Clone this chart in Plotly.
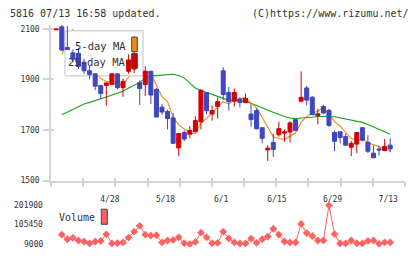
import numpy as np
import plotly.graph_objects as go

# ---------------- data ----------------
dates = ["4/14", "4/15", "4/16", "4/17", "4/20", "4/21", "4/22", "4/23", "4/24", "4/27",
         "4/28", "4/30", "5/1", "5/7", "5/8", "5/11", "5/12", "5/13", "5/14", "5/15",
         "5/18", "5/19", "5/20", "5/21", "5/22", "5/25", "5/26", "5/27", "5/28", "5/29",
         "6/1", "6/2", "6/3", "6/4", "6/5", "6/8", "6/9", "6/10", "6/11", "6/12",
         "6/15", "6/16", "6/17", "6/18", "6/19", "6/22", "6/23", "6/24", "6/25", "6/26",
         "6/29", "6/30", "7/1", "7/2", "7/3", "7/6", "7/7", "7/8", "7/9", "7/10", "7/13"]

opens = [2096, 2108, 2026, 2005, 2003, 1968, 1934, 1922, 1876, 1876, 1880,
         1922, 1867, 1932, 1941, 1887, 1880, 1932, 1860, 1790, 1773,
         1748, 1629, 1690, 1683, 1693, 1732, 1848, 1763, 1793, 1934,
         1848, 1814, 1822, 1808, 1763, 1777, 1709, 1621, 1651, 1681,
         1687, 1692, 1741, 1814, 1866, 1829, 1756, 1793, 1777, 1690,
         1693, 1674, 1632, 1644, 1709, 1651, 1608, 1625, 1619, 1640]
highs = [2099, 2115, 2111, 2018, 2024, 1982, 1954, 1924, 1877, 1887, 1923,
         1924, 1902, 1999, 2012, 1896, 1951, 1934, 1867, 1802, 1780,
         1767, 1686, 1698, 1715, 1754, 1861, 1848, 1797, 1828, 1948,
         1870, 1864, 1829, 1844, 1802, 1786, 1709, 1640, 1686, 1732,
         1702, 1735, 1743, 1931, 1874, 1835, 1784, 1799, 1784, 1698,
         1693, 1686, 1657, 1690, 1709, 1679, 1638, 1638, 1664, 1667]
lows = [2096, 2011, 2016, 1969, 1941, 1922, 1900, 1858, 1822, 1797, 1878,
        1861, 1831, 1922, 1925, 1799, 1835, 1803, 1751, 1760, 1702,
        1647, 1597, 1655, 1667, 1693, 1702, 1763, 1737, 1745, 1818,
        1776, 1793, 1789, 1806, 1713, 1702, 1647, 1577, 1593, 1673,
        1654, 1651, 1698, 1809, 1797, 1760, 1722, 1763, 1712, 1616,
        1647, 1638, 1596, 1609, 1655, 1609, 1590, 1599, 1616, 1612]
closes = [2099, 2016, 2018, 1980, 1951, 1934, 1919, 1873, 1844, 1886, 1922,
          1867, 1892, 1977, 2002, 1864, 1932, 1838, 1751, 1771, 1745,
          1647, 1686, 1664, 1698, 1737, 1857, 1776, 1777, 1812, 1840,
          1812, 1848, 1809, 1825, 1741, 1705, 1667, 1628, 1623, 1705,
          1693, 1728, 1698, 1829, 1818, 1760, 1764, 1767, 1718, 1655,
          1670, 1640, 1647, 1690, 1660, 1616, 1590, 1621, 1635, 1625]

# values from 4/15 onward
volume = [56100, 33300, 39600, 27000, 22100, 12400, 22100, 25000, 57600, 12400,
          13900, 17300, 41600, 70700, 99900, 56100, 51300, 53700, 17300, 27000,
          29900, 43000, 13900, 9200, 20200, 65900, 43000, 13900, 15600, 70700,
          36700, 17300, 12400, 12400, 36700, 15600, 33300, 46400, 85300, 56100,
          22100, 17300, 17300, 109600, 64000, 49300, 27000, 27000, 201900, 59000,
          12400, 12400, 27000, 13900, 12400, 25000, 27000, 10500, 17300, 17300]
ma5 = [1999, 2050, 2098, 2013, 1980, 1960, 1931, 1904, 1891, 1889,
       1878, 1882, 1909, 1932, 1920, 1933, 1923, 1877, 1831, 1812,
       1750, 1720, 1703, 1688, 1686, 1728, 1746, 1769, 1792, 1812,
       1803, 1818, 1824, 1827, 1807, 1786, 1749, 1713, 1673, 1666,
       1663, 1675, 1689, 1731, 1753, 1767, 1774, 1788, 1765, 1733,
       1715, 1690, 1666, 1660, 1661, 1651, 1641, 1635, 1624, 1617]
ma25 = [1760, 1771, 1782, 1795, 1803, 1809, 1815, 1822, 1830, 1838,
        1845, 1853, 1866, 1877, 1888, 1905, 1915, 1915, 1916, 1919,
        1920, 1915, 1905, 1885, 1866, 1856, 1848, 1840, 1831, 1825,
        1819, 1817, 1816, 1813, 1806, 1798, 1788, 1778, 1769, 1760,
        1753, 1747, 1745, 1747, 1748, 1750, 1753, 1754, 1754, 1752,
        1748, 1742, 1740, 1736, 1730, 1722, 1713, 1703, 1694, 1683]

label_dates = ["4/28", "5/18", "6/1", "6/15", "6/29", "7/13"]
price_ticks = [1500, 1700, 1900, 2100]
vol_ticks = [9000, 105450, 201900]

# ---------------- geometry / style ----------------
W, H = 420, 259
ML, MR, MT, MB = 51, 15, 25, 4
PW, PH = W - ML - MR, H - MT - MB
FONT = "DejaVu Sans Mono"
TXT = "#333333"
AXC = "#d4d4d4"
RED = "#d40000"
BLUE = "#3f47bf"
ORANGE = "#f08a10"
GREEN = "#17a317"
VOLC = "#ff6262"


def px_x(px):
    return (px - ML) / PW


def px_y(py):
    return (H - MB - py) / PH


pos = list(range(-1, len(dates) - 1))
vol_pos = pos[1:]
x_range = [-1.94, 61.66]
y_range = [1500, 2115]
v_range = [-5577, 222800]
price_dom = [px_y(184), px_y(25)]
vol_dom = [px_y(252), px_y(205)]
marks = list(np.linspace(x_range[0], x_range[1], 12))
label_pos = [p for p, d in zip(pos, dates) if d in label_dates]


def idx_at(px):
    return x_range[0] + (px - ML) / PW * (x_range[1] - x_range[0])


def price_at(py):
    return y_range[0] + (184 - py) / (184 - 25) * (y_range[1] - y_range[0])


fig = go.Figure()
fig.add_trace(go.Scatter(x=vol_pos, y=ma25, mode="lines", line=dict(color=GREEN, width=1.1),
                         xaxis="x", yaxis="y", hoverinfo="skip"))
fig.add_trace(go.Scatter(x=vol_pos, y=ma5, mode="lines", line=dict(color=ORANGE, width=1.1),
                         xaxis="x", yaxis="y", hoverinfo="skip"))
# legend box (covers the MA lines, sits below the candles)
bx0, bx1, by0, by1 = idx_at(65), idx_at(143), price_at(77), price_at(31)
fig.add_trace(go.Scatter(x=[bx0, bx1, bx1, bx0, bx0], y=[by0, by0, by1, by1, by0],
                         mode="lines", fill="toself", fillcolor="white",
                         line=dict(color="#d6d6d6", width=1.5), xaxis="x", yaxis="y",
                         hoverinfo="skip"))
fig.add_trace(go.Candlestick(x=pos, open=opens, high=highs, low=lows, close=closes,
                             xaxis="x3", yaxis="y3", whiskerwidth=0,
                             increasing=dict(line=dict(color=RED, width=1), fillcolor=RED),
                             decreasing=dict(line=dict(color=BLUE, width=1), fillcolor=BLUE)))
fig.add_trace(go.Scatter(x=vol_pos, y=volume, mode="lines+markers",
                         line=dict(color=VOLC, width=1),
                         marker=dict(symbol="diamond", size=6, color=VOLC),
                         xaxis="x2", yaxis="y2"))

tickfont = dict(family=FONT, size=8, color=TXT)
fig.update_layout(
    width=W, height=H, margin=dict(l=ML, r=MR, t=MT, b=MB),
    paper_bgcolor="white", plot_bgcolor="white", showlegend=False,
    boxgap=0.1, boxgroupgap=0.2,
    xaxis=dict(domain=[0, 1], anchor="y", range=x_range, showline=True, linecolor=AXC,
               linewidth=1.5, showgrid=False, zeroline=False,
               tickmode="array", tickvals=label_pos, ticktext=label_dates, ticks="",
               tickfont=tickfont, ticklabelstandoff=10, ticklabelshift=-2,
               minor=dict(tickmode="array", tickvals=marks, ticks="outside", ticklen=5,
                          tickcolor=AXC, tickwidth=1.5, showgrid=False)),
    yaxis=dict(domain=price_dom, anchor="x", range=y_range, showline=True, linecolor=AXC,
               linewidth=1.5, showgrid=False, zeroline=False, tickmode="array",
               tickvals=price_ticks, ticks="outside", ticklen=6, tickcolor=AXC, tickwidth=1.5,
               tickfont=tickfont, ticklabelstandoff=2),
    xaxis3=dict(overlaying="x", anchor="y3", range=x_range, showline=False, showgrid=False,
                zeroline=False, tickmode="array", tickvals=marks, ticks="inside", ticklen=3,
                tickcolor=AXC, tickwidth=1.5, showticklabels=False,
                rangeslider=dict(visible=False), side="bottom"),
    yaxis3=dict(overlaying="y", anchor="x3", range=y_range, showline=False, showgrid=False,
                zeroline=False, tickmode="array", tickvals=price_ticks, ticks="inside",
                ticklen=3, tickcolor=AXC, tickwidth=1.5, showticklabels=False, side="left"),
    xaxis2=dict(domain=[0, 1], anchor="y2", range=x_range, visible=False),
    yaxis2=dict(domain=vol_dom, anchor="x2", range=v_range, visible=False),
)

ann = [
    dict(text="5816 07/13 16:58 updated.", x=px_x(8), y=px_y(13.5), xanchor="left",
         font=dict(family=FONT, size=10, color=TXT)),
    dict(text="(C)https://www.rizumu.net/", x=px_x(411), y=px_y(13.5), xanchor="right",
         font=dict(family=FONT, size=10, color=TXT)),
    dict(text="5-day MA", x=px_x(128), y=px_y(46), xanchor="right",
         font=dict(family=FONT, size=10.5, color=TXT)),
    dict(text="25-day MA", x=px_x(128), y=px_y(63), xanchor="right",
         font=dict(family=FONT, size=10.5, color=TXT)),
    dict(text="Volume", x=px_x(57), y=px_y(222), xanchor="left",
         font=dict(family=FONT, size=10, color=TXT)),
]
for a in ann:
    a.update(xref="paper", yref="paper", yanchor="middle", showarrow=False)
for v in vol_ticks:
    ann.append(dict(text=str(v), x=px_x(44.5), xref="paper", y=v, yref="y2",
                    xanchor="right", yanchor="middle", showarrow=False,
                    font=dict(family=FONT, size=8, color=TXT)))
fig.update_layout(annotations=ann)

shapes = [
    dict(x0=px_x(131.7), x1=px_x(137.3), y0=px_y(52.3), y1=px_y(37.3), fillcolor=ORANGE),
    dict(x0=px_x(131.7), x1=px_x(137.3), y0=px_y(69.3), y1=px_y(54.3), fillcolor=RED),
    dict(x0=px_x(101.3), x1=px_x(107.3), y0=px_y(228.7), y1=px_y(213.3), fillcolor=VOLC),
]
for s in shapes:
    s.update(type="rect", xref="paper", yref="paper", layer="above",
             line=dict(color="#444444", width=1))
fig.update_layout(shapes=shapes)

fig.write_html("out.html")
